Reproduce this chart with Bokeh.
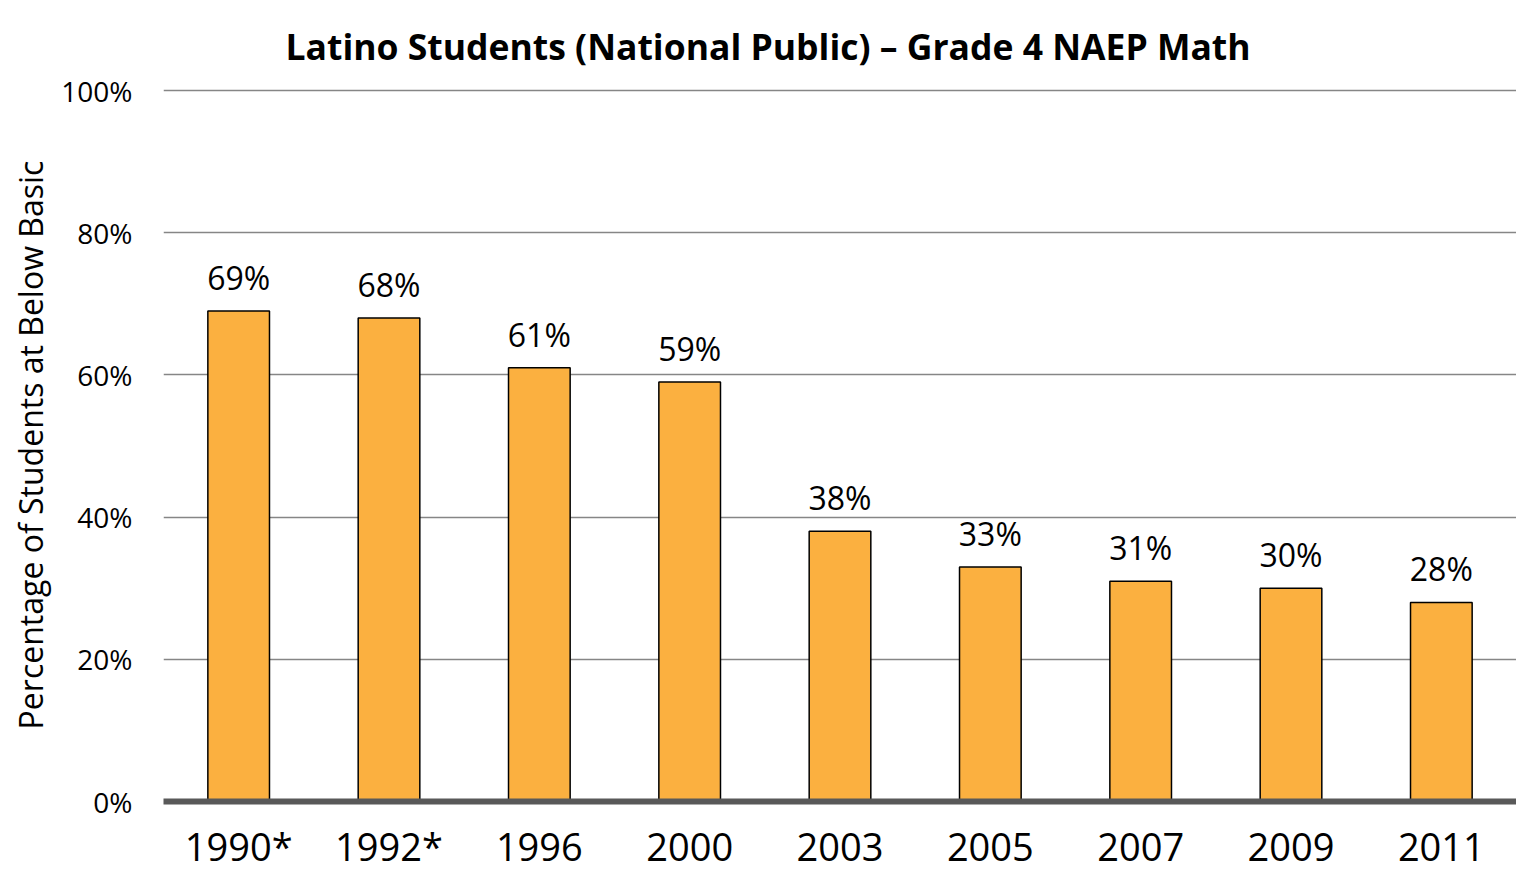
from bokeh.plotting import figure
from bokeh.models import ColumnDataSource, FactorRange, Range1d, FixedTicker, PrintfTickFormatter, Title
from bokeh.embed import file_html
from bokeh.resources import INLINE
from bokeh.core.properties import value

years = ["1990*", "1992*", "1996", "2000", "2003", "2005", "2007", "2009", "2011"]
below_basic = [69, 68, 61, 59, 38, 33, 31, 30, 28]
labels = [f"{v}%" for v in below_basic]
y_ticks = [0, 20, 40, 60, 80, 100]
title_text = "Latino Students (National Public) \u2013 Grade 4 NAEP Math"

FONT = "Open Sans"

src = ColumnDataSource(dict(year=years, val=below_basic, lab=labels))

p = figure(width=1516, height=874, x_range=FactorRange(*years), y_range=Range1d(0, 100.3),
           output_backend="svg", toolbar_location=None,
           min_border_left=163, min_border_right=0, min_border_top=88, min_border_bottom=73)
p.outline_line_color = None
p.background_fill_color = "white"
p.border_fill_color = "white"

p.title = Title(text=title_text, text_font=FONT, text_font_size="35.5px", text_font_style="bold",
                align="left", offset=122, standoff=37, text_color="black")

p.vbar(x="year", top="val", width=0.41, source=src, fill_color="#FBB040",
       line_color="black", line_width=1.5)
p.text(x="year", y="val", text="lab", source=src, text_align="center", text_baseline="bottom",
       y_offset=-12, text_font=value(FONT), text_font_size="32px", text_color="black")

p.xgrid.grid_line_color = None
p.ygrid.ticker = FixedTicker(ticks=y_ticks)
p.ygrid.grid_line_color = "#868686"
p.ygrid.grid_line_width = 1.5

p.yaxis.ticker = FixedTicker(ticks=y_ticks)
p.yaxis.formatter = PrintfTickFormatter(format="%d%%")
p.yaxis.axis_line_color = None
p.yaxis.major_tick_line_color = None
p.yaxis.minor_tick_line_color = None
p.yaxis.major_label_standoff = 25
p.yaxis.major_label_text_font = FONT
p.yaxis.major_label_text_font_size = "28px"
p.yaxis.major_label_text_color = "black"
p.yaxis.axis_label = "Percentage of Students at Below Basic"
p.yaxis.axis_label_text_font = FONT
p.yaxis.axis_label_text_font_size = "32px"
p.yaxis.axis_label_text_font_style = "normal"
p.yaxis.axis_label_text_color = "black"
p.yaxis.axis_label_standoff = 6

p.xaxis.axis_line_color = "#595959"
p.xaxis.axis_line_width = 6
p.xaxis.major_tick_line_color = None
p.xaxis.minor_tick_line_color = None
p.xaxis.major_label_standoff = 12
p.xaxis.major_label_text_font = FONT
p.xaxis.major_label_text_font_size = "38px"
p.xaxis.major_label_text_color = "black"

open("out.html", "w").write(file_html(p, INLINE))
